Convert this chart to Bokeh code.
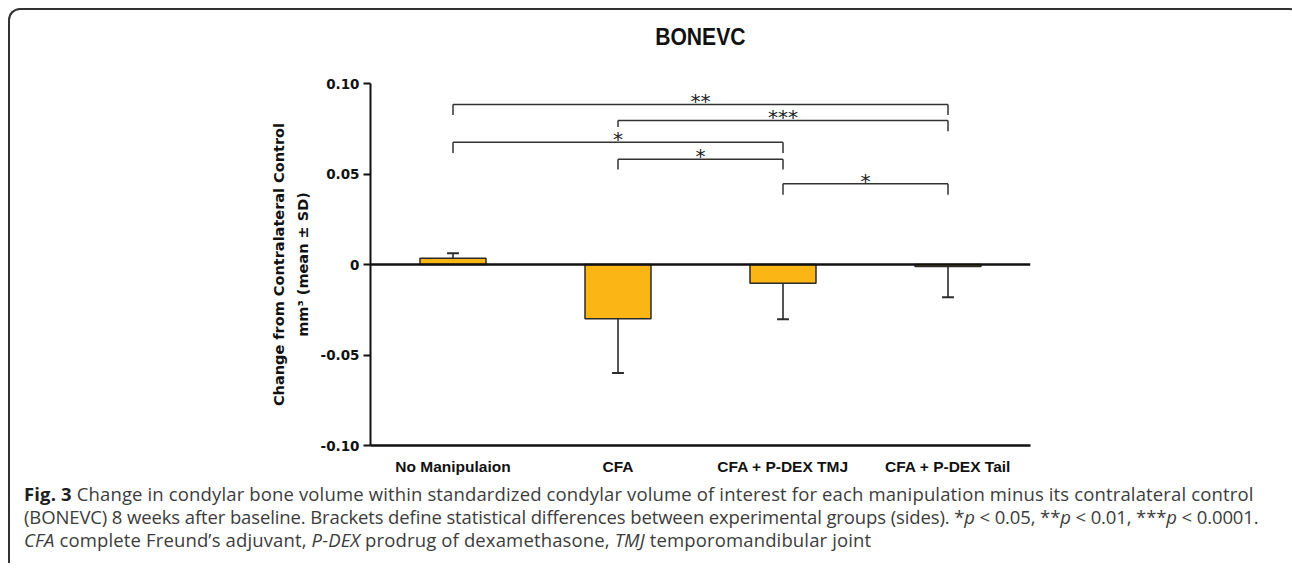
from bokeh.plotting import figure
from bokeh.models import Range1d, FixedTicker, Span, Div, LinearAxis
from bokeh.layouts import column
from bokeh.embed import file_html
from bokeh.resources import INLINE
from bokeh.core.properties import value

# ---------------- data ----------------
title_text = "BONEVC"
categories = ["No Manipulaion", "CFA", "CFA + P-DEX TMJ", "CFA + P-DEX Tail"]
means = [0.0035, -0.0300, -0.0103, -0.0011]
sds = [0.0027, 0.0300, 0.0200, 0.0170]
y_ticks = [-0.10, -0.05, 0.0, 0.05, 0.10]
y_tick_labels = ["-0.10", "-0.05", "0", "0.05", "0.10"]
ylabel_lines = ["Change from Contralateral Control", "mm\u00b3 (mean \u00b1 SD)"]
# significance brackets: group index pairs, bar height, drop lengths, label
bracket_left = [0, 1, 0, 1, 2]
bracket_right = [3, 3, 2, 2, 3]
bracket_height = [0.0884, 0.0796, 0.0676, 0.0582, 0.0446]
bracket_drop_left = [0.0058, 0.0037, 0.0060, 0.0057, 0.0060]
bracket_drop_right = [0.0058, 0.0060, 0.0060, 0.0057, 0.0060]
bracket_labels = ["**", "***", "*", "*", "*"]

caption_lines = [
    "<b style='color:#1e1e1e'>Fig. 3</b> Change in condylar bone volume within standardized condylar volume of interest for each manipulation minus its contralateral control",
    "(BONEVC) 8 weeks after baseline. Brackets define statistical differences between experimental groups (sides). *<i>p</i>&nbsp;&lt;&nbsp;0.05, **<i>p</i>&nbsp;&lt;&nbsp;0.01, ***<i>p</i>&nbsp;&lt;&nbsp;0.0001.",
    "<i>CFA</i> complete Freund\u2019s adjuvant, <i>P-DEX</i> prodrug of dexamethasone, <i>TMJ</i> temporomandibular joint",
]
caption_spacing = ["0.14px", "-0.12px", "0.14px"]

# ---------------- layout constants ----------------
W = 1282
FRAME_LEFT = 360      # from the figure's left edge
FRAME_W = 660

# ---------------- title ----------------
title_div = Div(
    text=("<div style=\"width:%dpx; margin-left:%dpx; text-align:center; white-space:nowrap;\">"
          "<span style=\"display:inline-block; transform:scaleX(0.88); font-family:'Liberation Sans';"
          " font-weight:bold; font-size:24px; line-height:54px; color:#111111;\">%s</span></div>")
    % (FRAME_W, FRAME_LEFT, title_text),
    width=W, height=54, margin=0,
)

# ---------------- figure ----------------
n = len(categories)
xs = [i + 0.5 for i in range(n)]

p = figure(width=W, height=415, output_backend="svg", toolbar_location=None,
           x_range=Range1d(0, n), y_range=Range1d(-0.10, 0.10),
           min_border_left=FRAME_LEFT, min_border_right=W - FRAME_LEFT - FRAME_W,
           min_border_top=19, min_border_bottom=34)
p.outline_line_color = None
p.xgrid.visible = False
p.ygrid.visible = False
p.background_fill_color = "white"
p.border_fill_color = "white"

BAR = "#FBB615"
DARK = "#2b2b2b"

p.vbar(x=xs, top=means, bottom=0, width=0.4, fill_color=BAR, line_color=DARK, line_width=1.5)

# one-sided error bars (away from zero)
err_end = [m + (s if m >= 0 else -s) for m, s in zip(means, sds)]
p.segment(x0=xs, y0=means, x1=xs, y1=err_end, line_color=DARK, line_width=1.6)
cap_half = 0.036
p.segment(x0=[x - cap_half for x in xs], y0=err_end, x1=[x + cap_half for x in xs], y1=err_end,
          line_color=DARK, line_width=2)

p.add_layout(Span(location=0, dimension="width", line_color="#111111", line_width=2.6))

# brackets
bx0 = [l + 0.5 for l in bracket_left]
bx1 = [r + 0.5 for r in bracket_right]
p.segment(x0=bx0, y0=bracket_height, x1=bx1, y1=bracket_height, line_color="#333333", line_width=1.5)
p.segment(x0=bx0, y0=bracket_height, x1=bx0, y1=[h - d for h, d in zip(bracket_height, bracket_drop_left)],
          line_color="#333333", line_width=1.5)
p.segment(x0=bx1, y0=bracket_height, x1=bx1, y1=[h - d for h, d in zip(bracket_height, bracket_drop_right)],
          line_color="#333333", line_width=1.5)
p.text(x=[(a + b) / 2 for a, b in zip(bx0, bx1)], y=bracket_height, text=bracket_labels,
       text_align="center", text_baseline="alphabetic", y_offset=-3,
       text_font=value("DejaVu Sans"), text_font_size="20px", text_color="#222222")

# axes
LABEL_FONT = "DejaVu Sans"
p.yaxis.ticker = FixedTicker(ticks=y_ticks)
p.yaxis.major_label_overrides = {t: l for t, l in zip(y_ticks, y_tick_labels)}
p.yaxis.minor_tick_line_color = None
p.yaxis.major_tick_in = 0
p.yaxis.major_tick_out = 7
p.yaxis.major_tick_line_width = 2
p.yaxis.major_tick_line_color = "#111111"
p.yaxis.axis_line_width = 2
p.yaxis.axis_line_color = "#111111"
p.yaxis.major_label_standoff = 4
p.yaxis.major_label_text_font = "DejaVu Sans"
p.yaxis.major_label_text_font_style = "bold"
p.yaxis.major_label_text_font_size = "13.5px"
p.yaxis.major_label_text_color = "#111111"
p.yaxis.axis_label = ylabel_lines[1]
p.yaxis.axis_label_standoff = 7
p.yaxis.axis_label_text_font = LABEL_FONT
p.yaxis.axis_label_text_font_style = "bold"
p.yaxis.axis_label_text_font_size = "14.5px"
p.yaxis.axis_label_text_color = "#111111"

outer = LinearAxis(ticker=FixedTicker(ticks=[]), axis_line_color=None,
                   major_tick_line_color=None, minor_tick_line_color=None,
                   axis_label=ylabel_lines[0], axis_label_standoff=5,
                   axis_label_text_font=LABEL_FONT, axis_label_text_font_style="bold",
                   axis_label_text_font_size="14.5px", axis_label_text_color="#111111")
p.add_layout(outer, "left")

p.xaxis.ticker = FixedTicker(ticks=xs)
p.xaxis.major_label_overrides = {x: c for x, c in zip(xs, categories)}
p.xaxis.minor_tick_line_color = None
p.xaxis.major_tick_line_color = None
p.xaxis.major_tick_in = 0
p.xaxis.major_tick_out = 0
p.xaxis.axis_line_width = 2.6
p.xaxis.axis_line_color = "#111111"
p.xaxis.major_label_standoff = 12
p.xaxis.major_label_text_font = "Liberation Sans"
p.xaxis.major_label_text_font_style = "bold"
p.xaxis.major_label_text_font_size = "15.5px"
p.xaxis.major_label_text_color = "#111111"

# ---------------- caption ----------------
caption_html = "<div style=\"padding-left:9px; margin-top:-2px; white-space:nowrap;\">" + "<br>".join(
    "<span style=\"letter-spacing:%s\">%s</span>" % (ls, line) for ls, line in zip(caption_spacing, caption_lines)
) + "</div>"
caption = Div(
    text=caption_html, width=W, height=74,
    styles={"font-family": "'Open Sans'", "font-size": "18.5px", "line-height": "23px", "color": "#3c3c3c"},
)

layout = column(title_div, p, caption, spacing=0,
                styles={"margin-left": "8px", "margin-top": "8px",
                        "border-top": "2px solid #333333", "border-left": "2px solid #333333",
                        "border-top-left-radius": "12px", "border-top-right-radius": "12px"})

open("out.html", "w").write(file_html(layout, INLINE))
